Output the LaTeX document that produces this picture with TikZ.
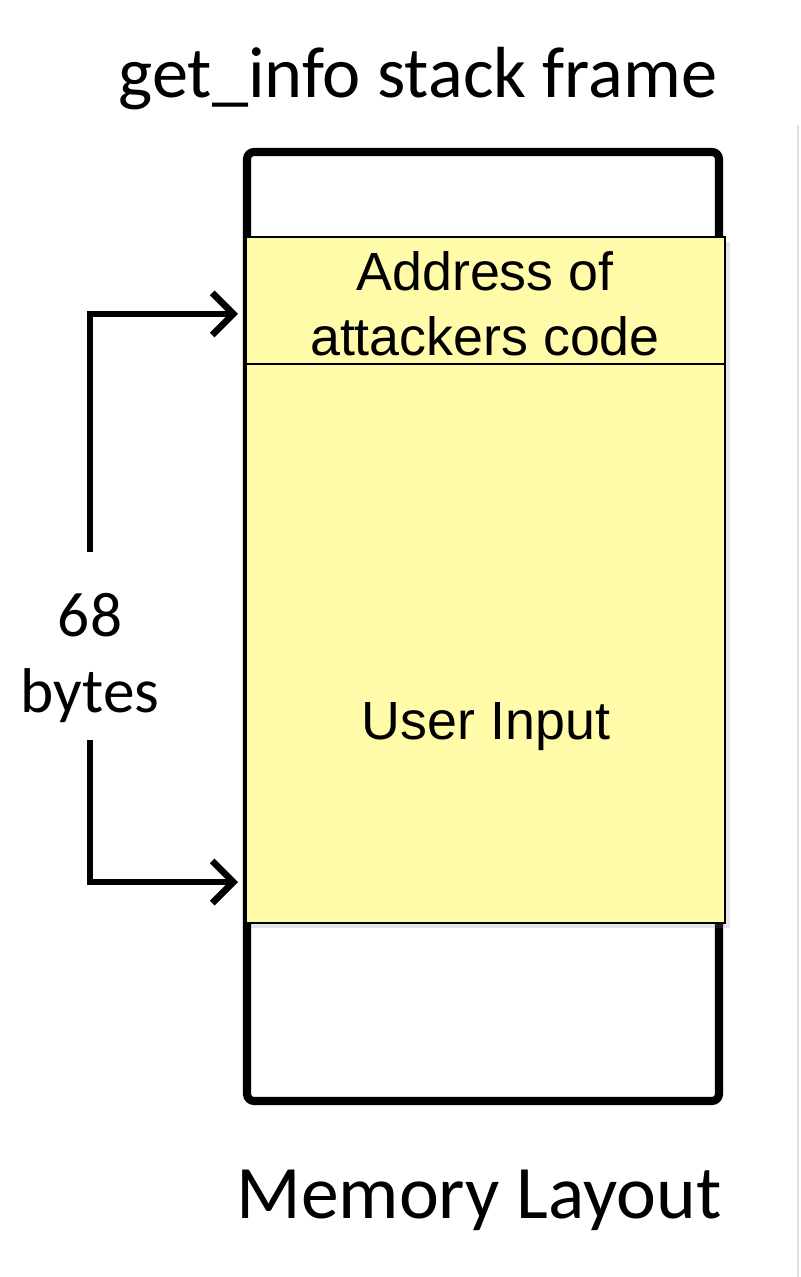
\documentclass[tikz,border=0pt]{standalone}
\usepackage{fontspec}
\setmainfont{Carlito}
\newfontfamily\boxfont{Liberation Sans}
\usepackage{xcolor}
\usepackage{tikz}
\usetikzlibrary{arrows.meta, positioning, shadows}
\definecolor{boxyellow}{RGB}{255,251,168}
\tikzset{
  frame/.style={draw=black, line width=2.3pt, rounded corners=2pt},
  cell/.style={rectangle, draw=black, line width=0.5pt, fill=boxyellow, text centered, font=\boxfont\fontsize{15.3}{18.5}\selectfont, align=center, inner sep=0pt,
    drop shadow={shadow xshift=1.5pt, shadow yshift=-1.5pt, opacity=0.2}},
  celltext/.style={font=\boxfont\fontsize{15.3}{18.5}\selectfont, align=center},
  caption/.style={font=\fontsize{18}{21.5}\selectfont, align=center},
  arrow/.style={line width=1.9pt, -{Straight Barb[length=6pt, width=12pt, line width=1.9pt]}}
}

\begin{document}
\begin{tikzpicture}
\useasboundingbox (0,0) rectangle (8,-12.77);
% faint edge on the right
\draw[gray!25, line width=0.5pt] (7.98,-1.25) -- (7.98,-12.77);

% Title
\node[font=\fontsize{20.6}{24}\selectfont] (title) at (4.18,-0.79) {get\_info stack frame};

% Stack frame
\draw[frame] (2.47,-1.52) rectangle (7.19,-11.01);

% Row 1: return address
\node[cell, minimum width=4.79cm, minimum height=1.27cm, anchor=north west] (addr) at (2.45,-2.36) {};
\node[celltext] (addrtext) at (4.85,-3.04) {Address of\\attackers code};

% Row 2: buffer
\node[cell, minimum width=4.79cm, minimum height=5.59cm, anchor=north west] (input) at (2.45,-3.63) {};
\node[celltext] (inputtext) at (4.86,-7.27) {User Input};

% Size marker
\node[caption] (bytes) at (0.9,-6.58) {68\\bytes};
\coordinate (topstart) at (0.9,-5.52);
\coordinate (botstart) at (0.9,-7.4);
\coordinate (topend) at (2.38,-3.14);
\coordinate (botend) at (2.38,-8.82);
\draw[arrow] (topstart) |- (topend);
\draw[arrow] (botstart) |- (botend);

% Caption
\node[font=\fontsize{21.5}{25}\selectfont] (layout) at (4.79,-12.0) {Memory Layout};
\end{tikzpicture}
\end{document}
